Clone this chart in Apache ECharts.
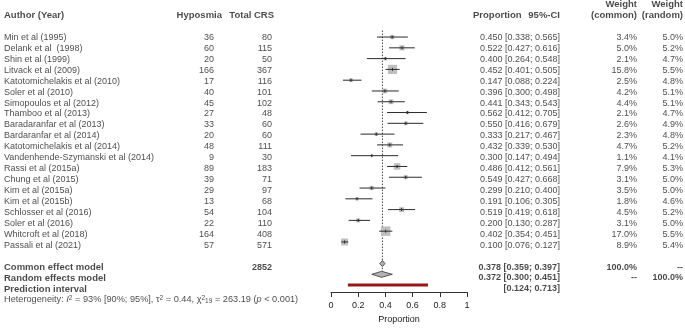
<!DOCTYPE html>
<html>
<head>
<meta charset="utf-8">
<script src="https://cdn.jsdelivr.net/npm/echarts@6/dist/echarts.min.js"></script>
<style>
  html, body { margin: 0; padding: 0; background: #fff; }
  #forest { width: 685px; height: 329px; }
</style>
</head>
<body>
<div id="forest"></div>
<script>
// studies
var authors = [
  'Min et al (1995)', 'Delank et al  (1998)', 'Shin et al (1999)', 'Litvack et al (2009)',
  'Katotomichelakis et al (2010)', 'Soler et al (2010)', 'Simopoulos et al (2012)', 'Thamboo et al (2013)',
  'Baradaranfar et al (2013)', 'Bardaranfar et al (2014)', 'Katotomichelakis et al (2014)',
  'Vandenhende-Szymanski et al (2014)', 'Rassi et al (2015a)', 'Chung et al (2015)', 'Kim et al (2015a)',
  'Kim et al (2015b)', 'Schlosser et al (2016)', 'Soler et al (2016)', 'Whitcroft et al (2018)', 'Passali et al (2021)'
];
var hyposmia = [36, 60, 20, 166, 17, 40, 45, 27, 33, 20, 48, 9, 89, 39, 29, 13, 54, 22, 164, 57];
var totalCRS = [80, 115, 50, 367, 116, 101, 102, 48, 60, 60, 111, 30, 183, 71, 97, 68, 104, 110, 408, 571];
var proportion = [0.450, 0.522, 0.400, 0.452, 0.147, 0.396, 0.441, 0.562, 0.550, 0.333, 0.432, 0.300, 0.486, 0.549, 0.299, 0.191, 0.519, 0.200, 0.402, 0.100];
var ciLower = [0.338, 0.427, 0.264, 0.401, 0.088, 0.300, 0.343, 0.412, 0.416, 0.217, 0.339, 0.147, 0.412, 0.427, 0.210, 0.106, 0.419, 0.130, 0.354, 0.076];
var ciUpper = [0.565, 0.616, 0.548, 0.505, 0.224, 0.498, 0.543, 0.705, 0.679, 0.467, 0.530, 0.494, 0.561, 0.668, 0.400, 0.305, 0.618, 0.287, 0.451, 0.127];
var weightCommon = [3.4, 5.0, 2.1, 15.8, 2.5, 4.2, 4.4, 2.1, 2.6, 2.3, 4.7, 1.1, 7.9, 3.1, 3.5, 1.8, 4.5, 3.1, 17.0, 8.9];
var weightRandom = [5.0, 5.2, 4.7, 5.5, 4.8, 5.1, 5.1, 4.7, 4.9, 4.8, 5.2, 4.1, 5.3, 5.0, 5.0, 4.6, 5.2, 5.0, 5.5, 5.4];

// pooled results
var commonEst = [0.378, 0.359, 0.397];
var randomEst = [0.372, 0.300, 0.451];
var predInterval = [0.124, 0.713];
var totalN = 2852;
var xTicks = [0, 0.2, 0.4, 0.6, 0.8, 1];

var TXT = '#1a1a1a';
var FONT = 'Liberation Sans, Arial, sans-serif';
var ROW_COMMON = 21, ROW_RANDOM = 22, ROW_PRED = 23, ROW_HET = 24;

var rows = authors.map(function (a, i) { return i; });

function f3(v) { return v.toFixed(3); }
function ci(lo, hi) { return '[' + f3(lo) + '; ' + f3(hi) + ']'; }
function pct(v) { return v.toFixed(1) + '%'; }

// one column of text, drawn at rows of the shared row axis
function textCol(x, rowIdx, texts, align, bold, size) {
  return {
    type: 'scatter',
    xAxisIndex: 0, yAxisIndex: 0,
    symbolSize: 0,
    silent: true,
    itemStyle: { color: 'transparent' },
    data: texts.map(function (t, i) { return [x, rowIdx[i], t]; }),
    label: {
      show: true,
      position: align === 'right' ? 'left' : 'right',
      distance: 0,
      formatter: function (p) { return p.data[2]; },
      fontSize: size || 9,
      fontFamily: FONT,
      fontWeight: bold ? 'bold' : 'normal',
      color: TXT
    }
  };
}

var chart = echarts.init(document.getElementById('forest'));

var HS = 9.5; // header size

var series = [
  // header
  textCol(4, [-2], ['Author (Year)'], 'left', true, HS),
  textCol(222, [-2], ['Hyposmia'], 'right', true, HS),
  textCol(274, [-2], ['Total CRS'], 'right', true, HS),
  textCol(473, [-2], ['Proportion'], 'left', true, HS),
  textCol(560, [-2], ['95%-CI'], 'right', true, HS),
  textCol(637, [-3, -2], ['Weight', '(common)'], 'right', true, HS),
  textCol(683, [-3, -2], ['Weight', '(random)'], 'right', true, HS),
  // study rows
  textCol(4, rows, authors, 'left', false),
  textCol(214, rows, hyposmia.map(String), 'right', false),
  textCol(272, rows, totalCRS.map(String), 'right', false),
  textCol(560, rows, proportion.map(function (p, i) { return f3(p) + ' ' + ci(ciLower[i], ciUpper[i]); }), 'right', false),
  textCol(637, rows, weightCommon.map(pct), 'right', false),
  textCol(683, rows, weightRandom.map(pct), 'right', false),
  // pooled rows
  textCol(4, [ROW_COMMON, ROW_RANDOM, ROW_PRED], ['Common effect model', 'Random effects model', 'Prediction interval'], 'left', true, HS),
  textCol(272, [ROW_COMMON], [String(totalN)], 'right', true),
  textCol(560, [ROW_COMMON, ROW_RANDOM, ROW_PRED],
    [f3(commonEst[0]) + ' ' + ci(commonEst[1], commonEst[2]), f3(randomEst[0]) + ' ' + ci(randomEst[1], randomEst[2]),
     ci(predInterval[0], predInterval[1])], 'right', true),
  textCol(637, [ROW_COMMON, ROW_RANDOM], ['100.0%', '--'], 'right', true),
  textCol(683, [ROW_COMMON, ROW_RANDOM], ['--', '100.0%'], 'right', true),
  // heterogeneity
  {
    type: 'scatter', xAxisIndex: 0, yAxisIndex: 0, symbolSize: 0, silent: true,
    itemStyle: { color: 'transparent' },
    data: [[4, ROW_HET]],
    label: {
      show: true, position: 'right', distance: 0,
      formatter: 'Heterogeneity: {it|I}{sup|2} = 93% [90%; 95%], \u03c4{sup|2} = 0.44, \u03c7{sup|2}{sub|19} = 263.19 ({it|p} < 0.001)',
      fontSize: 9.2, fontFamily: FONT, color: TXT,
      rich: {
        it: { fontStyle: 'italic', fontSize: 9.2, fontFamily: FONT, color: TXT },
        sup: { fontSize: 6.5, fontFamily: FONT, color: TXT, verticalAlign: 'top', lineHeight: 10 },
        sub: { fontSize: 6.5, fontFamily: FONT, color: TXT, verticalAlign: 'bottom', lineHeight: 4 }
      }
    }
  },
  // reference line at pooled estimate
  {
    type: 'line', xAxisIndex: 1, yAxisIndex: 1, silent: true, symbol: 'none',
    data: [[commonEst[0], -0.6], [commonEst[0], ROW_RANDOM - 0.3]],
    lineStyle: { color: '#444', width: 1, type: [1.5, 1.5] },
    z: 1
  },
  // study squares and CIs
  {
    type: 'custom', xAxisIndex: 1, yAxisIndex: 1, silent: true, z: 3,
    data: proportion.map(function (p, i) { return [p, i, ciLower[i], ciUpper[i], weightCommon[i]]; }),
    renderItem: function (params, api) {
      var c = api.coord([api.value(0), api.value(1)]);
      var lo = api.coord([api.value(2), api.value(1)]);
      var hi = api.coord([api.value(3), api.value(1)]);
      var side = 9.5 * Math.sqrt(api.value(4) / 17);
      return {
        type: 'group',
        children: [
          { type: 'rect', shape: { x: c[0] - side / 2, y: c[1] - side / 2, width: side, height: side },
            style: { fill: '#bfbfbf' } },
          { type: 'line', shape: { x1: lo[0], y1: c[1], x2: hi[0], y2: c[1] },
            style: { stroke: '#2a2a2a', lineWidth: 1 } },
          { type: 'line', shape: { x1: c[0], y1: c[1] - 1.5, x2: c[0], y2: c[1] + 1.5 },
            style: { stroke: '#2a2a2a', lineWidth: 1 } }
        ]
      };
    }
  },
  // pooled diamonds
  {
    type: 'custom', xAxisIndex: 1, yAxisIndex: 1, silent: true, z: 4,
    data: [[commonEst[0], ROW_COMMON, commonEst[1], commonEst[2]], [randomEst[0], ROW_RANDOM, randomEst[1], randomEst[2]]],
    renderItem: function (params, api) {
      var c = api.coord([api.value(0), api.value(1)]);
      var lo = api.coord([api.value(2), api.value(1)]);
      var hi = api.coord([api.value(3), api.value(1)]);
      var h = 3;
      return {
        type: 'polygon',
        shape: { points: [[lo[0], c[1]], [c[0], c[1] - h], [hi[0], c[1]], [c[0], c[1] + h]] },
        style: { fill: '#b3b3b3', stroke: '#333', lineWidth: 0.8 }
      };
    }
  },
  // prediction interval
  {
    type: 'line', xAxisIndex: 1, yAxisIndex: 1, silent: true, symbol: 'none',
    data: [[predInterval[0], ROW_PRED], [predInterval[1], ROW_PRED]],
    lineStyle: { color: '#9a1515', width: 3, cap: 'butt' }
  }
];

var option = {
  animation: false,
  backgroundColor: '#fff',
  textStyle: { fontFamily: FONT },
  grid: [
    { left: 0, right: 0, top: 4.7, height: 317 },
    { left: 331, width: 136, top: 4.7, height: 291.3 }
  ],
  xAxis: [
    { gridIndex: 0, type: 'value', min: 0, max: 685, show: false },
    {
      gridIndex: 1, type: 'value', min: 0, max: 1, interval: 0.2, position: 'bottom',
      axisLine: { show: true, onZero: false, lineStyle: { color: '#333', width: 1 } },
      axisTick: { show: true, length: 5, lineStyle: { color: '#333' } },
      axisLabel: {
        fontSize: 9, fontFamily: FONT, color: TXT, margin: 9,
        formatter: function (v) { return xTicks.indexOf(Math.round(v * 10) / 10) >= 0 ? String(Math.round(v * 10) / 10) : ''; }
      },
      splitLine: { show: false },
      name: 'Proportion', nameLocation: 'middle', nameGap: 21,
      nameTextStyle: { fontSize: 9, fontFamily: FONT, color: TXT }
    }
  ],
  yAxis: [
    { gridIndex: 0, type: 'value', min: -3, max: 26, inverse: true, show: false },
    { gridIndex: 1, type: 'value', min: -3, max: 23.65, inverse: true, show: false }
  ],
  series: series
};

chart.setOption(option);
window.addEventListener('resize', function () { chart.resize(); });
</script>
</body>
</html>
